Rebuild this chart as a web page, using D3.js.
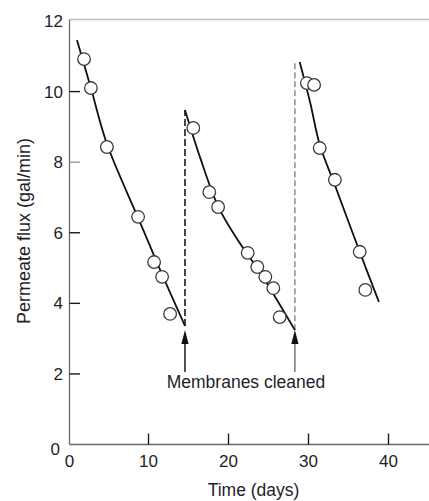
<!DOCTYPE html>
<html>
<head>
<meta charset="utf-8">
<script src="https://cdn.jsdelivr.net/npm/d3@7"></script>
<style>
  html, body { margin: 0; padding: 0; background: #fff; }
  svg { display: block; }
  text { font-family: "Liberation Sans", Arial, sans-serif; fill: #1e1e28; }
</style>
</head>
<body>
<svg id="chart" width="429" height="501"></svg>
<script>
// Measured permeate flux during three operating runs (gal/min vs days)
const run1Days = [1.94, 2.8, 4.8, 8.7, 10.7, 11.7, 12.7];
const run1Flux = [10.92, 10.1, 8.43, 6.45, 5.17, 4.75, 3.7];
const run2Days = [15.6, 17.6, 18.7, 22.4, 23.6, 24.6, 25.6, 26.4];
const run2Flux = [8.97, 7.15, 6.73, 5.43, 5.03, 4.75, 4.43, 3.61];
const run3Days = [29.8, 30.7, 31.4, 33.3, 36.4, 37.1];
const run3Flux = [10.24, 10.19, 8.4, 7.5, 5.46, 4.38];

// Fitted decline curves for each run
const fit1Days = [1.06, 2.8, 4.8, 8.7, 11.7, 14.56];
const fit1Flux = [11.46, 10.1, 8.52, 6.42, 4.82, 3.36];
const fit2Days = [14.56, 16.5, 18.7, 21, 24, 28.3];
const fit2Flux = [9.48, 8.1, 6.75, 5.85, 4.85, 3.24];
const fit3Days = [28.9, 30.2, 31.4, 33.3, 36.4, 38.8];
const fit3Flux = [10.84, 9.7, 8.5, 7.35, 5.46, 4.04];

// Membrane cleaning events
const cleanDays = [14.56, 28.3];
const cleanLow = [3.36, 3.24];
const cleanHigh = [9.48, 10.84];

const xTicks = [0, 10, 20, 30, 40];
const yTicks = [0, 2, 4, 6, 8, 10, 12];

const svg = d3.select("#chart");
const x = d3.scaleLinear().domain([0, 45]).range([68.5, 428.5]);
const y = d3.scaleLinear().domain([0, 12]).range([444.5, 21]);

// Frame: top rule, left and bottom axis lines
svg.append("line").attr("x1", 69.5).attr("x2", 429).attr("y1", 19.5).attr("y2", 19.5)
  .attr("stroke", "#bdbdbd").attr("stroke-width", 1.5);
svg.append("line").attr("x1", 69.5).attr("x2", 69.5).attr("y1", 19.5).attr("y2", 444.5)
  .attr("stroke", "#6a6a6a").attr("stroke-width", 1.3);
svg.append("line").attr("x1", 69.5).attr("x2", 429).attr("y1", 444.5).attr("y2", 444.5)
  .attr("stroke", "#6a6a6a").attr("stroke-width", 1.3);

// Y ticks (pointing inward) and labels
yTicks.forEach(v => {
  if (v > 0 && v < 12) {
    svg.append("line").attr("x1", 69.5).attr("x2", 80).attr("y1", y(v)).attr("y2", y(v))
      .attr("stroke", v === 8 ? "#9a9a9a" : "#1a1a1a").attr("stroke-width", 1.4);
  }
  svg.append("text").attr("x", v === 0 ? 60 : 63).attr("y", y(v) + (v === 0 ? 4.5 : 0))
    .attr("dy", "0.36em").attr("text-anchor", "end")
    .style("font-size", "17px").text(v);
});

// X ticks (pointing inward) and labels
xTicks.forEach(v => {
  if (v > 0) {
    svg.append("line").attr("x1", x(v)).attr("x2", x(v)).attr("y1", 444.5).attr("y2", 433.5)
      .attr("stroke", "#1a1a1a").attr("stroke-width", 1.4);
  }
  svg.append("text").attr("x", v === 0 ? 69.5 : x(v)).attr("y", 467)
    .attr("text-anchor", "middle").style("font-size", "17px").text(v);
});

// Axis titles
svg.append("text").attr("x", 253.5).attr("y", 496).attr("text-anchor", "middle")
  .style("font-size", "17.5px").text("Time (days)");
svg.append("text").attr("transform", "translate(30,231) rotate(-90)")
  .attr("text-anchor", "middle").style("font-size", "18px").text("Permeate flux (gal/min)");

// Cleaning markers: dashed jump lines
cleanDays.forEach((d, i) => {
  svg.append("line").attr("x1", x(d)).attr("x2", x(d))
    .attr("y1", y(cleanLow[i])).attr("y2", y(cleanHigh[i]))
    .attr("stroke", i === 0 ? "#1a1a1a" : "#7a7a7a")
    .attr("stroke-width", i === 0 ? 1.6 : 1.3)
    .attr("stroke-dasharray", i === 0 ? "7,3" : "6,3");
});

// Fitted curves
const line = d3.line().x(d => x(d[0])).y(d => y(d[1])).curve(d3.curveCatmullRom.alpha(0.5));
[[fit1Days, fit1Flux], [fit2Days, fit2Flux], [fit3Days, fit3Flux]].forEach(([ds, fs]) => {
  svg.append("path").datum(d3.zip(ds, fs)).attr("d", line)
    .attr("fill", "none").attr("stroke", "#111").attr("stroke-width", 1.8);
});

// Data points (open circles)
[[run1Days, run1Flux], [run2Days, run2Flux], [run3Days, run3Flux]].forEach(([ds, fs]) => {
  svg.append("g").selectAll("circle").data(d3.zip(ds, fs)).join("circle")
    .attr("cx", d => x(d[0])).attr("cy", d => y(d[1])).attr("r", 6.3)
    .attr("fill", "#fff").attr("stroke", "#3a3a3a").attr("stroke-width", 1.3);
});

// Arrows pointing to the cleaning times
const tipY = 330, headY = 344, tailY = 372;
cleanDays.forEach((d, i) => {
  const cx = x(d);
  svg.append("line").attr("x1", cx).attr("x2", cx).attr("y1", headY - 1).attr("y2", tailY)
    .attr("stroke", i === 0 ? "#1a1a1a" : "#555").attr("stroke-width", i === 0 ? 1.5 : 1.2);
  svg.append("path")
    .attr("d", `M${cx},${tipY} L${cx - 3.6},${headY} L${cx + 3.6},${headY} Z`)
    .attr("fill", "#111");
});

svg.append("text").attr("x", 246).attr("y", 388).attr("text-anchor", "middle")
  .style("font-size", "17.5px").text("Membranes cleaned");
</script>
</body>
</html>
